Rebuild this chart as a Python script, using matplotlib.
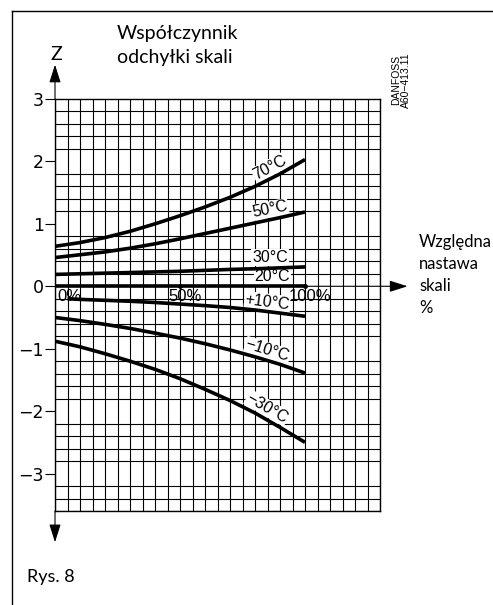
#!/usr/bin/env python3
import numpy as np
import matplotlib
matplotlib.use('Agg')
import matplotlib.pyplot as plt
from matplotlib.lines import Line2D

# relative setting of the scale, %
setting = [0, 10, 20, 30, 40, 50, 60, 70, 80, 90, 100]
setting_p10 = [5, 10, 20, 30, 40, 50, 60, 70, 80, 90, 100]

# scale deviation factor Z for each temperature
z_70 = [0.64, 0.70, 0.78, 0.88, 1.00, 1.13, 1.27, 1.425, 1.60, 1.80, 2.03]
z_50 = [0.46, 0.505, 0.55, 0.61, 0.68, 0.76, 0.845, 0.93, 1.015, 1.10, 1.19]
z_30 = [0.19, 0.20, 0.21, 0.22, 0.23, 0.24, 0.255, 0.27, 0.28, 0.295, 0.31]
z_20 = [0, 0, 0, 0, 0, 0, 0, 0, 0, 0, 0]
z_p10 = [-0.20, -0.21, -0.225, -0.24, -0.26, -0.285, -0.31, -0.34, -0.38, -0.43, -0.48]
z_m10 = [-0.50, -0.55, -0.61, -0.675, -0.75, -0.83, -0.92, -1.02, -1.13, -1.25, -1.39]
z_m30 = [-0.88, -0.97, -1.08, -1.20, -1.33, -1.48, -1.65, -1.83, -2.03, -2.26, -2.50]

y_ticks = [-3, -2, -1, 0, 1, 2, 3]
y_tick_labels = ['\u22123', '\u22122', '\u22121', '0', '1', '2', '3']
x_labels = ['0%', '50%', '100%']
x_label_pos = [0, 50, 100]

W, H = 493, 605
fig = plt.figure(figsize=(W / 100, H / 100), dpi=100)
fig.patch.set_facecolor('white')

# grid area in pixels
gl, gr, gt, gb = 55, 380, 99, 511
ax = fig.add_axes([gl / W, 1 - gb / H, (gr - gl) / W, (gb - gt) / H])
ax.set_xlim(0, 130)
ax.set_ylim(-3.6, 3.0)
ax.set_facecolor('white')

# the millimetre-like grid
ax.set_xticks(np.arange(0, 131, 5), minor=True)
ax.set_yticks(np.arange(-3.6, 3.01, 0.2), minor=True)
ax.grid(which='minor', color='black', linewidth=0.8)
ax.tick_params(which='minor', length=0)
ax.set_xticks([])
ax.set_yticks(y_ticks)
ax.set_yticklabels(y_tick_labels, fontsize=12.5, family='DejaVu Sans')
ax.tick_params(axis='y', which='major', length=7, width=0.8, pad=1)
for s in ax.spines.values():
	s.set_linewidth(1.0)
	s.set_color('black')
ax.set_axisbelow(True)

ln = dict(color='black', lw=2.6, solid_capstyle='butt', solid_joinstyle='round', zorder=4)
ax.plot(setting, z_70, **ln)
ax.plot(setting, z_50, **ln)
ax.plot(setting, z_30, **ln)
ax.plot(setting, z_20, **ln)
ax.plot(setting_p10, z_p10, **ln)
ax.plot(setting, z_m10, **ln)
ax.plot(setting, z_m30, **ln)

# curve labels
lab_font = dict(family='Liberation Sans', fontsize=11.5, ha='center', va='center',
	zorder=3, bbox=dict(boxstyle='square,pad=0.05', fc='white', ec='none'))
ax.text(86, 1.90, '70\u00b0C', rotation=28, **lab_font)
ax.text(86, 1.23, '50\u00b0C', rotation=11, **lab_font)
ax.text(86, 0.46, '30\u00b0C', **lab_font)
ax.text(87, 0.15, '20\u00b0C', **lab_font)
ax.text(85, -0.25, '+10\u00b0C', rotation=-7, **lab_font)
ax.text(85, -1.03, '\u221210\u00b0C', rotation=-17, **lab_font)
ax.text(85, -1.95, '\u221230\u00b0C', rotation=-30, **lab_font)

# x labels just under the zero line
for p, t in zip(x_label_pos, x_labels):
	ax.text(p + 1 if p == 0 else p + 2, -0.04, t, family='Liberation Sans', fontsize=12,
		ha='left' if p == 0 else 'center', va='top', zorder=5)
ax.plot([50, 100], [0, 0], 'o', color='black', ms=2.5, zorder=5, clip_on=False)

# axes with arrows beyond the grid
arr = dict(arrowstyle='-|>,head_length=1.1,head_width=0.35', color='black', lw=0.8,
	shrinkA=0, shrinkB=0)
ax.annotate('', xy=(0, 3.55), xytext=(0, 3.0), arrowprops=arr, annotation_clip=False)
ax.annotate('', xy=(0, -4.1), xytext=(0, -3.6), arrowprops=arr, annotation_clip=False)
ax.annotate('', xy=(141, 0), xytext=(100, 0), arrowprops=arr, annotation_clip=False)

# frame of the figure
fig.add_artist(Line2D([12 / W, 12 / W], [0, 1 - 11 / H], color='black', lw=1.0))
fig.add_artist(Line2D([12 / W, 1], [1 - 11 / H, 1 - 11 / H], color='black', lw=1.0))

txt = dict(family='Lato', fontsize=14, color='black')
fig.text(117 / W, 1 - 33 / H, 'Współczynnik', va='center', ha='left', **txt)
fig.text(117 / W, 1 - 57 / H, 'odchyłki skali', va='center', ha='left', **txt)
fig.text(56 / W, 1 - 55 / H, 'Z', va='center', ha='center', **txt)
fig.text(27 / W, 1 - 577 / H, 'Rys. 8', va='center', ha='left', family='Lato',
	fontsize=13, color='black')
for i, t in enumerate(['Względna', 'nastawa', 'skali', '%']):
	fig.text(419 / W, 1 - (242 + i * 22) / H, t, va='center', ha='left', family='Lato',
		fontsize=12, color='black')

fig.text(401 / W, 1 - 80 / H, 'DANFOSS\nA60\u2212413.11', rotation=90, va='center',
	ha='center', family='Liberation Sans', fontsize=7.5, linespacing=0.9)

fig.savefig('out.png', dpi=100)
